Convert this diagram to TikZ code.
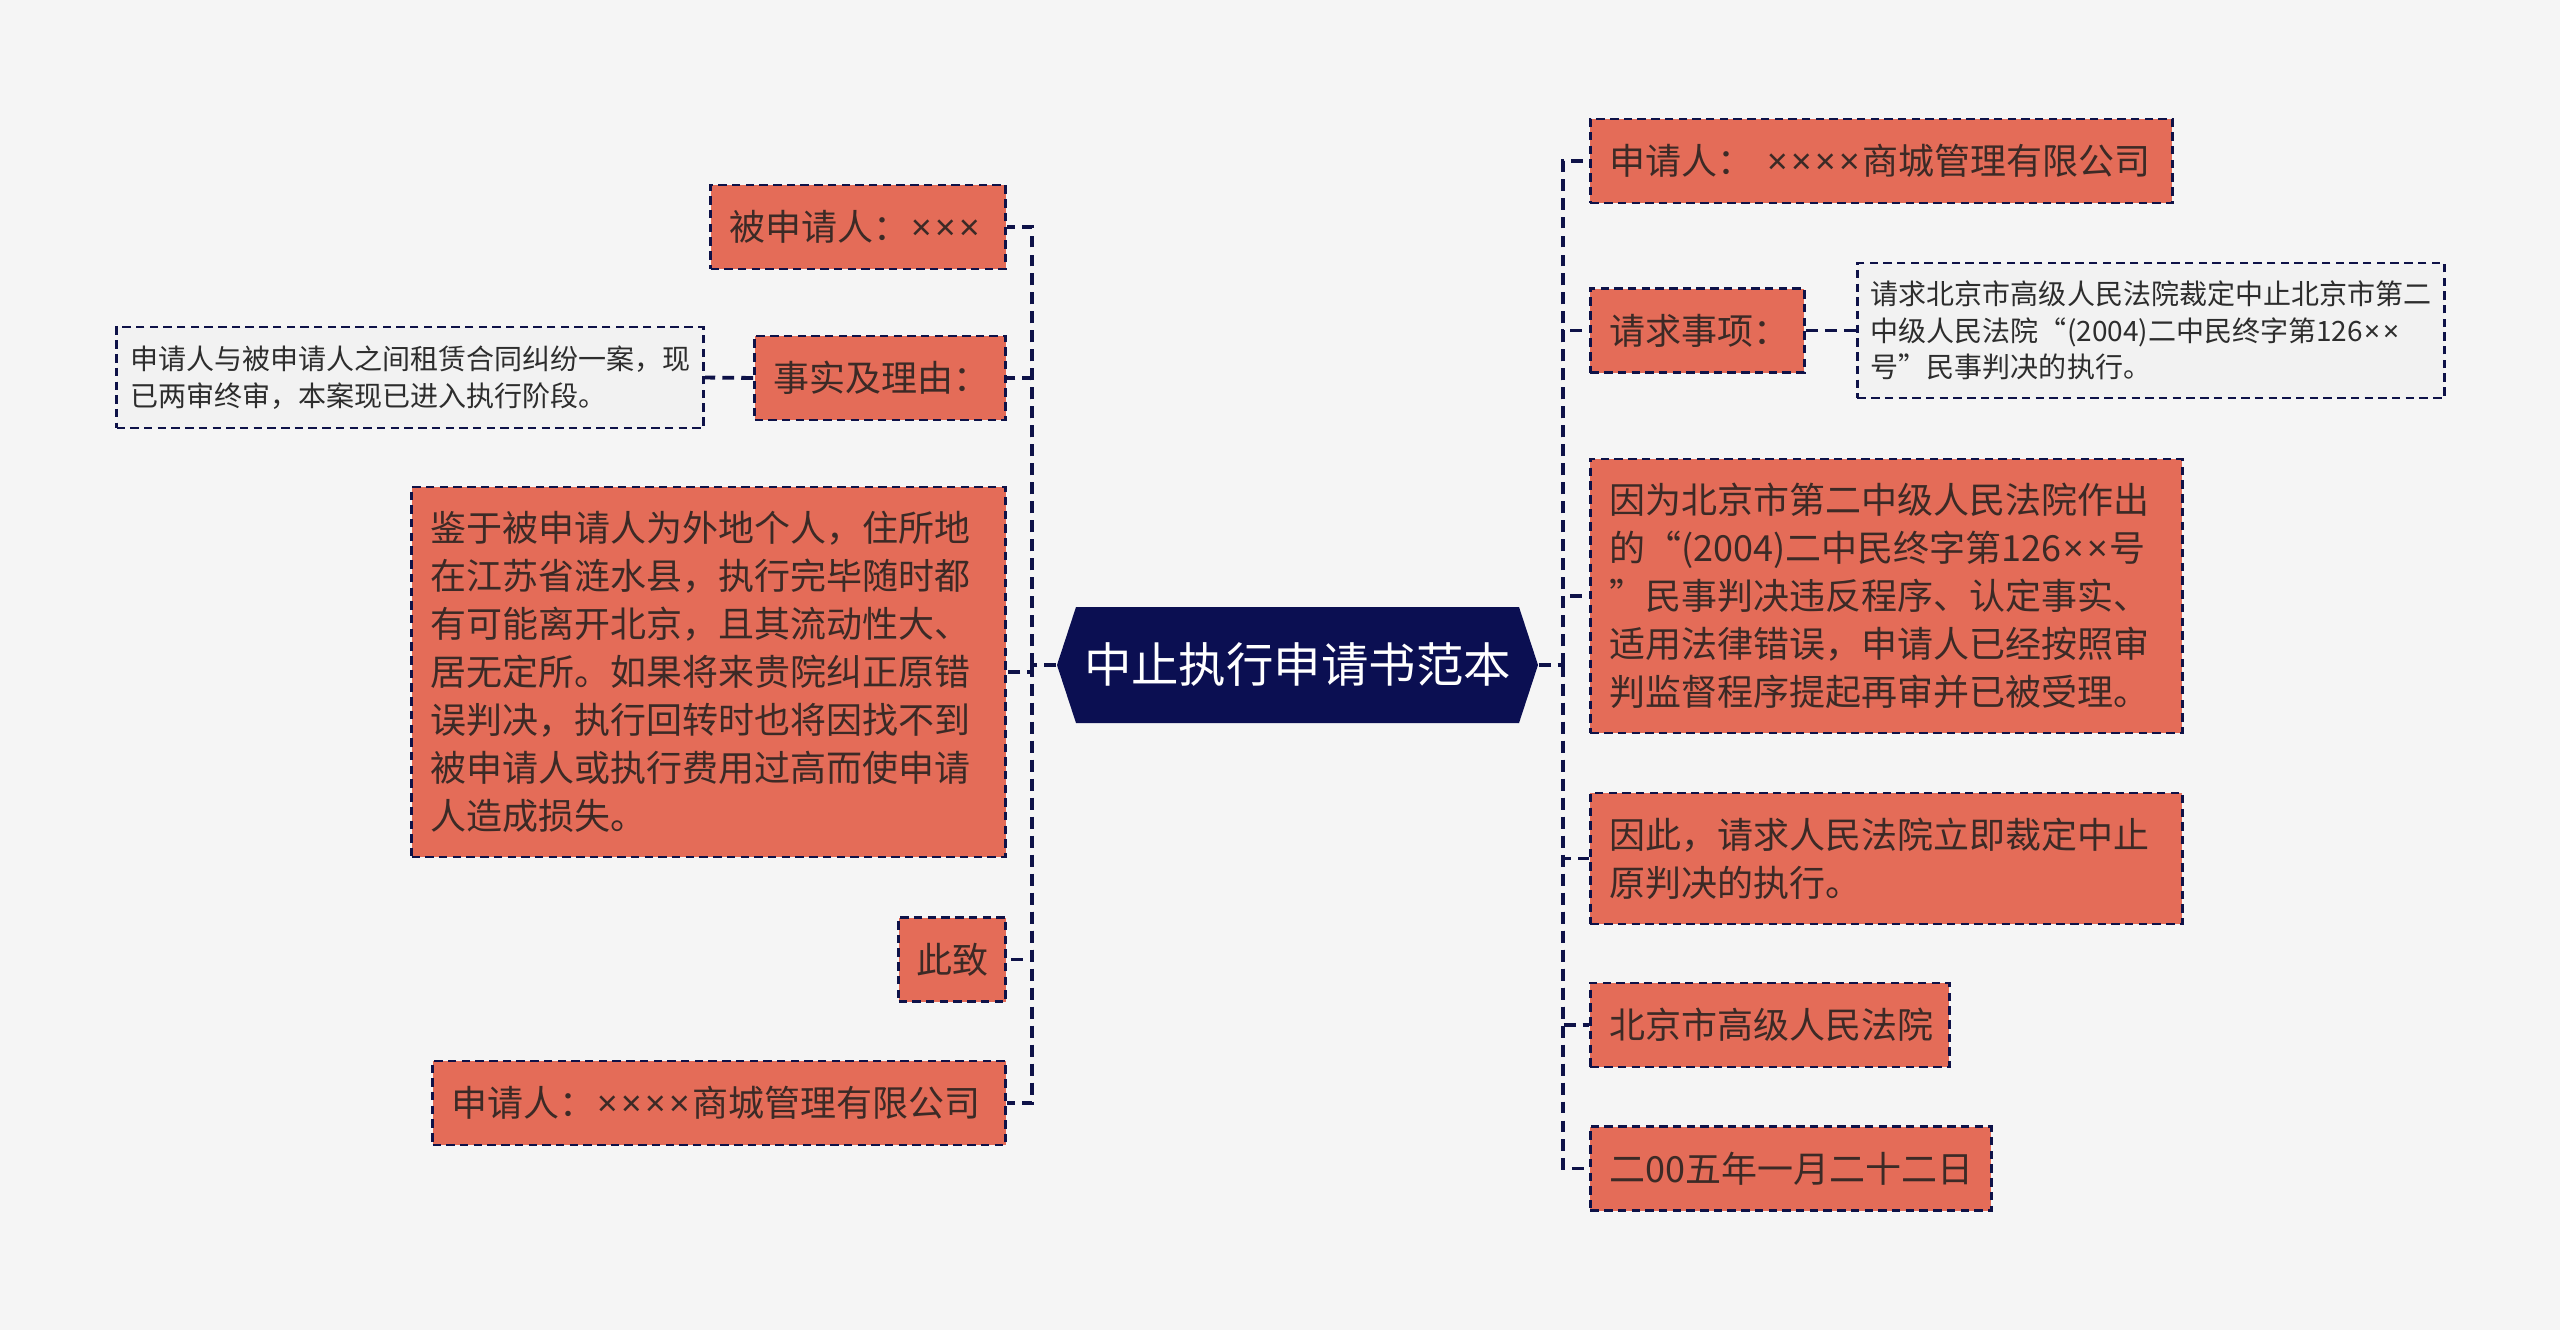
\documentclass[tikz,border=0pt]{standalone}
\usepackage{fontspec}
\setmainfont{Noto Sans CJK SC}
\newfontfamily\latinfont{Noto Sans}
\newcommand\crossch{{\kern0.05em\latinfont ×\kern0.05em}}
\usepackage{tikz}
\usetikzlibrary{calc}
\definecolor{bgclr}{RGB}{245,245,245}
\definecolor{rootclr}{RGB}{11,15,82}
\definecolor{boxclr}{RGB}{228,108,88}
\definecolor{noteclr}{RGB}{242,242,242}
\definecolor{linkclr}{RGB}{14,18,72}
\definecolor{txtclr}{RGB}{60,42,38}
\definecolor{notetxt}{RGB}{45,45,45}
\tikzset{
  % Markaziy tugun
  rootnode/.style = {minimum width=4.81cm, minimum height=1.16cm, inner sep=0pt,
    text=white, font=\fontsize{13.5pt}{16pt}\selectfont,
    path picture={\fill[rootclr] (path picture bounding box.west)
      -- ([xshift=0.19cm]path picture bounding box.north west)
      -- ([xshift=-0.19cm]path picture bounding box.north east)
      -- (path picture bounding box.east)
      -- ([xshift=-0.19cm]path picture bounding box.south east)
      -- ([xshift=0.19cm]path picture bounding box.south west) -- cycle;}},
  % Qutilar
  itembox/.style  = {draw=linkclr, line width=0.8pt, dash pattern=on 2.4pt off 1.5pt,
    fill=boxclr, text=txtclr, align=left, inner xsep=0.19cm, inner ysep=0pt,
    minimum height=0.84cm, font=\fontsize{10.24pt}{13.66pt}\selectfont},
  notebox/.style  = {draw=linkclr, line width=0.8pt, dash pattern=on 2.4pt off 1.5pt,
    fill=noteclr, text=notetxt, align=left, inner xsep=0.135cm, inner ysep=0pt,
    text width=5.6cm, font=\fontsize{7.97pt}{10.45pt}\selectfont},
  % Bog'lovchi chiziqlar
  link/.style     = {draw=linkclr, line width=1.1pt, dash pattern=on 3.4pt off 2pt},
}

\begin{document}
\begin{tikzpicture}
  \fill[bgclr] (0,0) rectangle (25.6,-13.3);
  \useasboundingbox (0,0) rectangle (25.6,-13.3);

  \node[rootnode] (root) at (12.975,-6.65) {中止执行申请书范本};

  % chap tomon
  \node[itembox, anchor=east, text width=2.57cm] (bsqr) at (10.07,-2.27) {被申请人：\crossch\crossch\crossch};
  \node[itembox, anchor=east, text width=2.13cm] (ssly) at (10.07,-3.78) {事实及理由：};
  \node[notebox, anchor=east, minimum height=1.01cm] (sslynote) at (7.05,-3.775)
    {申请人与被申请人之间租赁合同纠纷一案，现\\已两审终审，本案现已进入执行阶段。};
  \node[itembox, anchor=east, text width=5.56cm, minimum height=3.70cm] (jianyu) at (10.07,-6.72)
    {鉴于被申请人为外地个人，住所地\\在江苏省涟水县，执行完毕随时都\\有可能离开北京，且其流动性大、\\居无定所。如果将来贵院纠正原错\\误判决，执行回转时也将因找不到\\被申请人或执行费用过高而使申请\\人造成损失。};
  \node[itembox, anchor=east, text width=0.72cm, inner xsep=0.175cm] (cizhi) at (10.07,-9.595) {此致};
  \node[itembox, anchor=east, text width=5.35cm] (sqrl) at (10.07,-11.03)
    {申请人：\crossch\crossch\crossch\crossch 商城管理有限公司};

  % o'ng tomon
  \node[itembox, anchor=west, text width=5.44cm] (sqrr) at (15.89,-1.61)
    {申请人：\ \crossch\crossch\crossch\crossch 商城管理有限公司};
  \node[itembox, anchor=west, text width=1.76cm] (qqsx) at (15.89,-3.305) {请求事项：};
  \node[notebox, anchor=west, minimum height=1.35cm] (qqsxnote) at (18.56,-3.305)
    {请求北京市高级人民法院裁定中止北京市第二\\中级人民法院“(2004)二中民终字第126\crossch\crossch\\号”民事判决的执行。};
  \node[itembox, anchor=west, text width=5.54cm, minimum height=2.74cm] (yinwei) at (15.89,-5.96)
    {因为北京市第二中级人民法院作出\\的“(2004)二中民终字第126\crossch\crossch 号\\”民事判决违反程序、认定事实、\\适用法律错误，申请人已经按照审\\判监督程序提起再审并已被受理。};
  \node[itembox, anchor=west, text width=5.54cm, minimum height=1.31cm] (yinci) at (15.89,-8.585)
    {因此，请求人民法院立即裁定中止\\原判决的执行。};
  \node[itembox, anchor=west, text width=3.21cm] (fayuan) at (15.89,-10.25) {北京市高级人民法院};
  \node[itembox, anchor=west, text width=3.63cm] (riqi) at (15.89,-11.685) {二00五年一月二十二日};

  \coordinate (lj) at (10.32,-6.65);
  \coordinate (rj) at (15.63,-6.65);
  \draw[link] (root.west) -- (lj);
  \draw[link] (root.east) -- (rj);
  \foreach \n in {bsqr,ssly,jianyu,cizhi,sqrl}
    \draw[link] (lj) |- (\n.east);
  \foreach \n in {sqrr,qqsx,yinwei,yinci,fayuan,riqi}
    \draw[link] (rj) |- (\n.west);
  \draw[link] (ssly.west) -- (sslynote.east);
  \draw[link] (qqsx.east) -- (qqsxnote.west);
\end{tikzpicture}
\end{document}
